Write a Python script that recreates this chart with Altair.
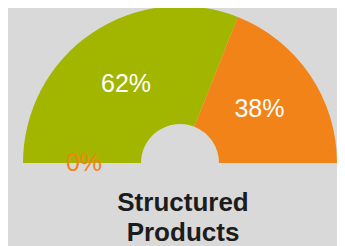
import math
import altair as alt
import pandas as pd

# ---- data ----
categories = ["Other", "Equity-linked", "Credit-linked"]
values = [0, 62, 38]
labels = ["0%", "62%", "38%"]
arc_colors = ["#f28319", "#a2b600", "#f28319"]
label_colors = ["#f28319", "#ffffff", "#ffffff"]
chart_title = "Structured Products"

df = pd.DataFrame({
    "category": categories,
    "value": values,
    "label": labels,
    "rank": list(range(len(categories))),
})

CX, CY = 172, 155
theta = alt.Theta("value:Q", stack=True,
                  scale=alt.Scale(range=[-math.pi / 2, math.pi / 2]))
order = alt.Order("rank:Q")

arcs = alt.Chart(df).mark_arc(x=CX, y=CY, radius=157, radius2=39).encode(
    theta=theta,
    order=order,
    color=alt.Color("category:N",
                    scale=alt.Scale(domain=categories, range=arc_colors),
                    legend=None),
)

texts = alt.Chart(df).mark_text(
    x=CX, y=CY, radius=96, fontSize=25, font="Liberation Sans",
    baseline="middle", align="center", dy=0,
).encode(
    theta=theta,
    order=order,
    text="label:N",
    color=alt.Color("category:N",
                    scale=alt.Scale(domain=categories, range=label_colors),
                    legend=None),
)

title = alt.Chart(pd.DataFrame({"t": [chart_title]})).mark_text(
    x=175, y=203, fontSize=26, fontWeight="bold", font="Liberation Sans",
    color="#1c1c1c", align="center", baseline="alphabetic",
    lineBreak=" ", lineHeight=30,
).encode(text="t:N")

chart = alt.layer(arcs, texts, title).resolve_scale(
    color="independent", theta="shared"
).properties(
    width=329, height=238, padding=0, autosize="none",
    background="#d9d9d9",
    usermeta={"embedOptions": {
        "defaultStyle": "html,body{background:#d9d9d9;overflow:hidden}"
    }},
).configure_view(stroke=None)

chart.save("out.html", embed_options={"renderer": "svg", "actions": False})
